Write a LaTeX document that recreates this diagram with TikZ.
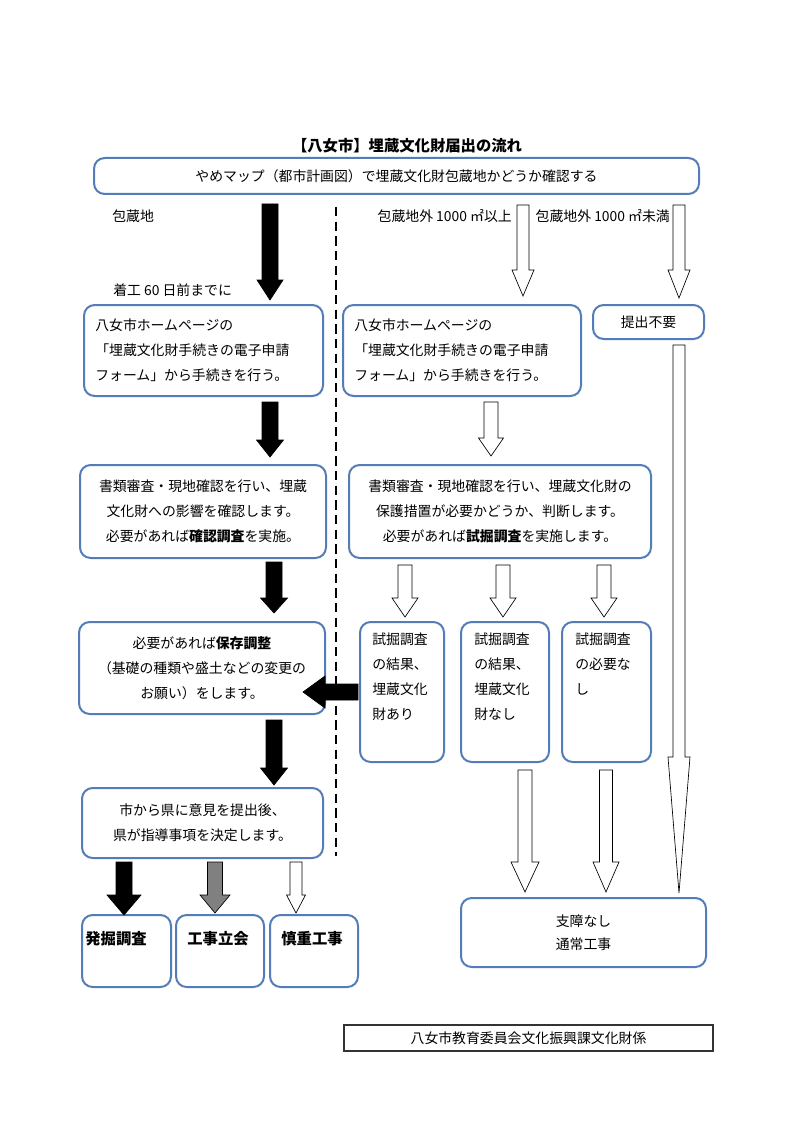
\documentclass[tikz,border=0pt]{standalone}
\usepackage{fontspec}
\setmainfont{Noto Sans CJK JP}
\usetikzlibrary{fit}
\definecolor{boxblue}{RGB}{84,124,184}
\definecolor{arrgray}{RGB}{128,128,128}
\tikzset{
  bx/.style={draw=boxblue, line width=1.5pt, rounded corners=8pt, inner sep=0pt},
  txt/.style={font={\fontsize{10.4pt}{18.75pt}\selectfont}, inner sep=0pt},
  bld/.style={font={\fontsize{11.5pt}{13pt}\selectfont\bfseries}, inner sep=0pt},
  blk/.style={fill=black, draw=black, line width=0.5pt},
  wht/.style={fill=white, draw=black, line width=0.5pt},
  gry/.style={fill=arrgray, draw=black, line width=0.5pt}
}
% down block arrow: x, ytop, yhead, ytip, half shaft, half head, style
\newcommand\dnarrow[7]{%
  \path[#7] ({#1-#5},#2) -- ({#1+#5},#2) -- ({#1+#5},#3) -- ({#1+#6},#3) -- (#1,#4) -- ({#1-#6},#3) -- ({#1-#5},#3) -- cycle;}
\begin{document}
\begin{tikzpicture}[x=0.75pt,y=-0.75pt]
\useasboundingbox (0,0) rectangle (794,1123);
\fill[white] (0,0) rectangle (794,1123);

% title
\node[inner sep=0pt, font={\fontsize{11.5pt}{13pt}\selectfont\bfseries}] (title) at (407,146) {【八女市】埋蔵文化財届出の流れ};

% top box
\node[bx, fit={(94,158) (699,194)}] (top) {};
\node[txt] (toptxt) at (top.center) {やめマップ（都市計画図）で埋蔵文化財包蔵地かどうか確認する};

% labels
\node[txt, anchor=west] (lab1) at (112,216) {包蔵地};
\node[txt, anchor=west] (lab2) at (113,290) {着工 60 日前までに};
\node[txt, anchor=east] (lab3) at (512,216) {包蔵地外 1000 ㎡以上};
\node[txt, anchor=east] (lab4) at (670,216) {包蔵地外 1000 ㎡未満};

% dashed divider
\draw[dashed, line width=1.5pt, dash pattern=on 7pt off 4pt] (336,207) -- (336,856);

% row 1 boxes
\node[bx, fit={(84,305) (323,396)}] (L1) {};
\node[txt, anchor=west, align=left] (L1t) at ([xshift=9pt]L1.west) {八女市ホームページの\\「埋蔵文化財手続きの電子申請\\フォーム」から手続きを行う。};
\node[bx, fit={(343,305) (581,396)}] (M1) {};
\node[txt, anchor=west, align=left] (M1t) at ([xshift=9pt]M1.west) {八女市ホームページの\\「埋蔵文化財手続きの電子申請\\フォーム」から手続きを行う。};
\node[bx, fit={(593,305) (704,339)}] (R1) {};
\node[txt] (R1t) at (R1.center) {提出不要};

% row 2 boxes
\node[bx, fit={(80,465) (326,558)}] (L2) {};
\node[txt, align=center] (L2t) at (L2.center) {書類審査・現地確認を行い、埋蔵\\文化財への影響を確認します。\\必要があれば\textbf{確認調査}を実施。};
\node[bx, fit={(349,465) (651,558)}] (M2) {};
\node[txt, align=center] (M2t) at (M2.center) {書類審査・現地確認を行い、埋蔵文化財の\\保護措置が必要かどうか、判断します。\\必要があれば\textbf{試掘調査}を実施します。};

% row 3 boxes
\node[bx, fit={(79,622) (325,714)}] (L3) {};
\node[txt, align=center] (L3t) at (L3.center) {必要があれば\textbf{保存調整}\\（基礎の種類や盛土などの変更の\\お願い）をします。};
\node[bx, fit={(360,622) (444,762)}] (S1) {};
\node[txt, anchor=north west, align=left] (S1t) at (372,633) {試掘調査\\の結果、\\埋蔵文化\\財あり};
\node[bx, fit={(461,622) (549,762)}] (S2) {};
\node[txt, anchor=north west, align=left] (S2t) at (474,633) {試掘調査\\の結果、\\埋蔵文化\\財なし};
\node[bx, fit={(562,622) (651,762)}] (S3) {};
\node[txt, anchor=north west, align=left] (S3t) at (575,633) {試掘調査\\の必要な\\し};

% row 4
\node[bx, fit={(82,788) (323,858)}] (L4) {};
\node[txt, align=center] (L4t) at (L4.center) {市から県に意見を提出後、\\県が指導事項を決定します。};

% bottom boxes
\node[bx, fit={(82,915) (171,987)}] (B1) {};
\node[bld] (B1t) at (116,939) {発掘調査};
\node[bx, fit={(176,915) (264,987)}] (B2) {};
\node[bld] (B2t) at (218,939) {工事立会};
\node[bx, fit={(270,915) (358,987)}] (B3) {};
\node[bld] (B3t) at (312,939) {慎重工事};
\node[bx, fit={(461,898) (706,967)}] (R) {};
\node[txt, align=center, font={\fontsize{10.4pt}{17.25pt}\selectfont}] (Rt) at (R.center) {支障なし\\通常工事};

% footer
\node[draw=black!80, line width=0.8pt, fit={(344,1025) (713,1051)}, inner sep=0pt] (foot) {};
\node[txt] (foott) at (foot.center) {八女市教育委員会文化振興課文化財係};

% arrows
\dnarrow{270}{204}{280}{300}{8}{13}{blk}
\dnarrow{523}{205}{270}{296}{6}{11}{wht}
\dnarrow{679}{205}{270}{298}{6}{11}{wht}
\dnarrow{679}{345}{757}{893}{6}{11}{wht}
\dnarrow{270}{402}{440}{457}{8}{13.5}{blk}
\dnarrow{491}{402}{438}{456}{7}{12.5}{wht}
\dnarrow{274}{562}{598}{613}{8}{13.5}{blk}
\dnarrow{405}{565}{598}{617}{7}{13}{wht}
\dnarrow{503}{565}{598}{617}{7}{13}{wht}
\dnarrow{604}{565}{598}{617}{7}{13}{wht}
\dnarrow{274}{720}{768}{785}{8}{13.5}{blk}
\dnarrow{124}{862}{895}{915}{8}{17}{blk}
\dnarrow{215}{862}{895}{913}{7.5}{15}{gry}
\dnarrow{296}{862}{895}{913}{6}{9.5}{wht}
\dnarrow{525}{770}{862}{892}{7}{14}{wht}
\dnarrow{606}{770}{862}{892}{6.5}{13}{wht}
% left arrow
\path[blk] (358,684) -- (325,684) -- (325,676) -- (303,692) -- (325,708) -- (325,700) -- (358,700) -- cycle;
\end{tikzpicture}
\end{document}
